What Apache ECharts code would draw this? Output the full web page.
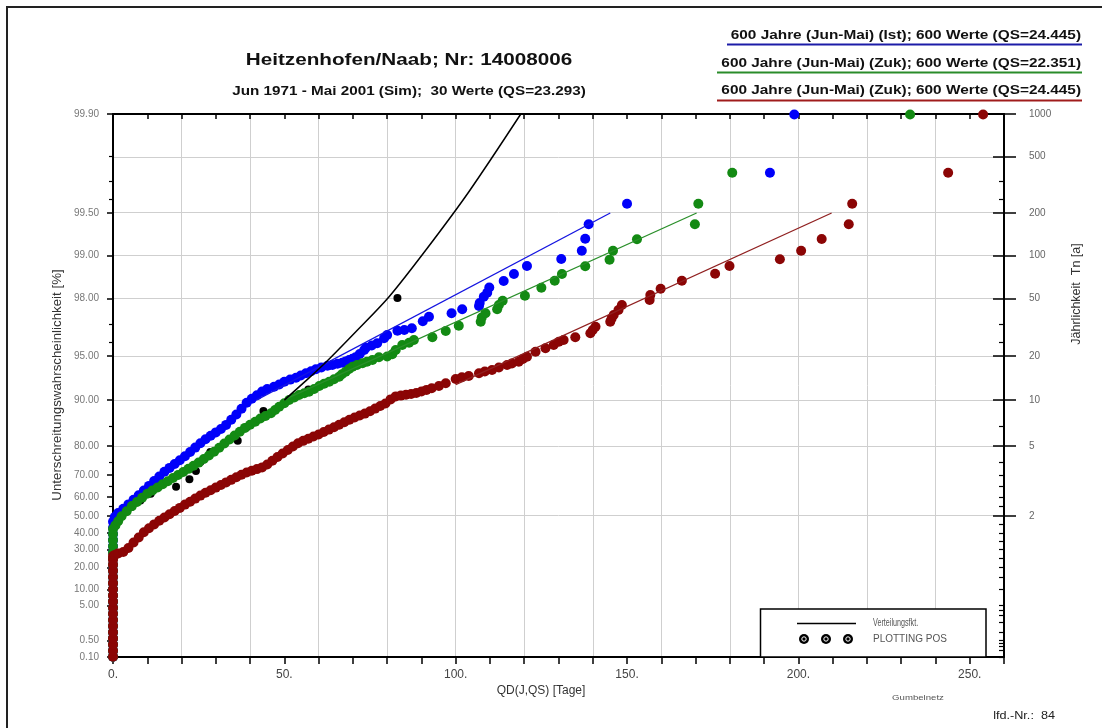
<!DOCTYPE html>
<html><head><meta charset="utf-8">
<script src="https://cdn.jsdelivr.net/npm/echarts@6/dist/echarts.min.js"></script>
<style>html,body{margin:0;padding:0;background:#fff}#c{width:1102px;height:728px}</style>
</head><body><div id="c"></div>
<script>
// ---- data: [QD (days), Gumbel reduced variate y = -ln(-ln P)] ----
const blueIst = [
 [0,-1.93],[0,-1.83],[0,-1.73],[0,-1.63],[0,-1.53],[0,-1.43],[0,-1.33],[0,-1.23],[0,-1.13],[0,-1.03],[0,-0.93],[0,-0.83],[0,-0.73],[0,-0.63],[0,-0.53],[0,-0.43],[0,-0.33],[0,-0.23],[0,-0.13],[0,-0.03],[0,0.07],[0,0.17],[0,0.27],
 [0.5,0.347],[1.5,0.412],[3,0.482],[4.5,0.552],[6,0.627],[7.5,0.701],[9,0.778],[10.5,0.853],[12,0.931],[13.5,1.006],[15,1.084],[16.5,1.146],[18,1.209],[19.5,1.271],[21,1.336],[22.5,1.406],[24,1.476],[25.5,1.546],[27,1.613],[28.5,1.669],[30,1.724],[31.5,1.779],[33,1.846],[34.5,1.929],[36,2.015],[37.5,2.108],[39,2.207],[40.5,2.271],[42,2.329],[43.5,2.388],[45,2.430],[47,2.468],[48.5,2.504],[50,2.549],[51.7,2.583],[53.4,2.614],[54.8,2.650],[56.3,2.686],[57.8,2.720],[59.2,2.751],[60.8,2.779],[62.6,2.810],[64,2.821],[65.5,2.841],[66.9,2.859],[67.9,2.880],[68.9,2.903],[69.9,2.924],[70.8,2.947],[72,3.000],[73.3,3.065],[73.8,3.103],[75.5,3.139],[77.1,3.175],[79.1,3.256],[80,3.310],[83,3.380],[85,3.391],[87.2,3.419],[90.4,3.533],[92.2,3.607],[98.8,3.663],[101.9,3.728],[106.8,3.782],[107,3.830],[108.2,3.933],[109.2,3.998],[109.8,4.083],[114,4.189],[117,4.303],[120.8,4.433],[130.8,4.547],[136.8,4.682],[137.8,4.877],[138.8,5.112],[150,5.447],[191.7,5.952],[198.8,6.90]
];
const greenZuk = [
 [0,-1.93],[0,-1.83],[0,-1.73],[0,-1.63],[0,-1.53],[0,-1.43],[0,-1.33],[0,-1.23],[0,-1.13],[0,-1.03],[0,-0.93],[0,-0.83],[0,-0.73],[0,-0.63],[0,-0.53],[0,-0.43],[0,-0.33],[0,-0.23],[0,-0.13],[0,-0.03],[0,0.07],[0,0.15],
 [0.7,0.210],[1.5,0.278],[2.5,0.358],[4,0.441],[5.5,0.524],[7,0.591],[8.5,0.659],[10,0.726],[11.5,0.778],[13,0.828],[14.5,0.879],[16,0.929],[17.5,0.980],[19,1.029],[20.5,1.079],[22,1.130],[23.5,1.180],[25,1.232],[26.5,1.291],[28,1.349],[29.5,1.408],[31,1.473],[32.5,1.542],[34,1.608],[35.5,1.673],[37,1.735],[38.5,1.797],[40,1.848],[41.5,1.898],[43,1.949],[44.5,1.991],[46.1,2.035],[47.3,2.089],[48.5,2.142],[50,2.198],[51.4,2.251],[52.9,2.292],[54.3,2.333],[55.8,2.360],[57.2,2.386],[58.7,2.430],[60.2,2.479],[61.6,2.515],[63.1,2.549],[64.5,2.590],[66,2.631],[66.8,2.671],[67.9,2.712],[68.9,2.756],[69.9,2.793],[71.2,2.821],[72.8,2.849],[74.1,2.875],[75.7,2.903],[77.6,2.947],[80,2.960],[81.5,2.995],[82.5,3.065],[84.4,3.147],[86.4,3.184],[87.8,3.228],[93.2,3.272],[97.1,3.375],[100.9,3.461],[107.3,3.526],[107.6,3.594],[108.7,3.663],[112.1,3.728],[112.6,3.798],[113.7,3.868],[120.2,3.949],[125,4.080],[128.9,4.194],[131,4.303],[137.8,4.428],[144.9,4.535],[145.9,4.682],[152.9,4.867],[169.8,5.112],[170.8,5.447],[180.7,5.952],[232.6,6.90]
];
const redZuk = [
 [0,-1.93],[0,-1.83],[0,-1.73],[0,-1.63],[0,-1.53],[0,-1.43],[0,-1.33],[0,-1.23],[0,-1.13],[0,-1.03],[0,-0.93],[0,-0.83],[0,-0.73],[0,-0.63],[0,-0.53],[0,-0.43],[0,-0.35],[0,-0.29],
 [0.5,-0.272],[1.5,-0.246],[3,-0.222],[4.5,-0.158],[6,-0.070],[7.5,0.013],[9,0.098],[10.5,0.163],[12,0.226],[13.5,0.285],[15,0.338],[16.5,0.391],[18,0.443],[19.5,0.495],[21,0.548],[22.5,0.596],[24,0.646],[25.5,0.695],[27,0.742],[28.5,0.783],[30,0.825],[31.5,0.868],[33,0.910],[34.5,0.951],[36,0.993],[37.5,1.035],[39,1.071],[40.5,1.099],[42,1.126],[43.5,1.154],[45,1.201],[46.5,1.262],[48,1.323],[49.5,1.380],[51,1.437],[52.5,1.494],[54,1.548],[55.5,1.586],[57,1.620],[58.5,1.656],[60,1.691],[61.5,1.729],[63,1.769],[64.5,1.809],[66,1.848],[67.5,1.888],[69,1.929],[70.5,1.966],[72,1.999],[73.5,2.030],[75,2.069],[76.5,2.111],[78,2.154],[79.5,2.194],[81,2.261],[82.5,2.310],[84,2.323],[85.5,2.336],[87,2.349],[88.5,2.364],[90,2.390],[91.5,2.416],[93,2.443],[95.1,2.479],[97.1,2.523],[100,2.593],[101.8,2.621],[103.8,2.642],[106.8,2.686],[108.5,2.715],[110.6,2.740],[112.6,2.780],[115,2.821],[116.4,2.846],[118.4,2.875],[119.6,2.919],[120.8,2.956],[123.3,3.038],[126.2,3.093],[128.6,3.147],[130.1,3.200],[131.5,3.228],[134.9,3.272],[139.3,3.337],[140,3.391],[140.8,3.445],[145.1,3.526],[145.5,3.578],[146.1,3.635],[147.5,3.717],[148.5,3.798],[156.6,3.879],[156.8,3.961],[159.8,4.063],[166,4.192],[175.7,4.308],[179.9,4.433],[194.6,4.542],[200.8,4.682],[206.8,4.872],[214.7,5.112],[215.7,5.447],[243.7,5.952],[253.9,6.90]
];
const blackSim = [
 [83,3.91],[70,2.934],[57,2.421],[43.9,2.073],[39,1.809],[36.4,1.589],[28.4,1.404],[25.5,1.241],[24.2,1.096],[22.3,0.963],[18.4,0.840],[11,0.725],[8,0.617],[5.5,0.514],[3,0.415],[1,0.319],
 [0,0.226],[0,0.134],[0,0.043],[0,-0.047],[0,-0.138],[0,-0.230],[0,-0.324],[0,-0.421],[0,-0.524],[0,-0.635],[0,-0.759],[0,-0.902],[0,-1.085],[0,-1.382]
];
// fitted distribution functions, drawn from 90 % upward
const blackFit = [[50.0,2.25],[56.0,2.55],[62.2,2.87],[71.0,3.37],[80.5,3.928],[91.3,4.693],[103.8,5.638],[119,6.907]];
const blueFit  = [[41.8,2.250],[145.1,5.296]];
const greenFit = [[49.7,2.250],[170.3,5.296]];
const redFit   = [[100.0,2.502],[209.7,5.296]];

// ---- axis ticks ----
const leftMajorPct = [99.9,99.5,99,98,95,90,80,70,60,50,40,30,20,10,5,0.5,0.1];
const leftMinorPct = [99.8,99.7,99.6,97,96,85,75,65,55,45,35,25,15,4,3,2,1,0.4,0.3,0.2];
const rightMajorT = [1000,500,200,100,50,20,10,5,2];
const rightMinorPct = [99.7,99.6,97,96,85,75,70,65,60,55,45,40,35,30,25,20,15,10,5,4,3,2,1,0.5,0.4,0.3,0.2,0.1];
const xLabels = [0,50,100,150,200,250];

const titleText = 'Heitzenhofen/Naab; Nr: 14008006';
const subTitleText = 'Jun 1971 - Mai 2001 (Sim);  30 Werte (QS=23.293)';
const legendTexts = [
 '600 Jahre (Jun-Mai) (Ist); 600 Werte (QS=24.445)',
 '600 Jahre (Jun-Mai) (Zuk); 600 Werte (QS=22.351)',
 '600 Jahre (Jun-Mai) (Zuk); 600 Werte (QS=24.445)'
];

const G = p => -Math.log(-Math.log(p / 100));
const P = v => 100 * Math.exp(-Math.exp(-v));
const yMin = G(0.1), yMax = G(99.9);
const Tp = t => 100 * (1 - 1 / t);
const FONT = 'Liberation Sans';
const BLUE = '#0000fa', GREEN = '#138a13', RED = '#8b0505';
const SX = 1.24; // horizontal stretch of the reference lettering

const chart = echarts.init(document.getElementById('c'));
const yBase = {type:'value', min:yMin, max:yMax, splitLine:{show:false}, axisLine:{show:false, onZero:false}, axisLabel:{show:false}};
const xBase = {type:'value', min:0, max:260, interval:10, splitLine:{show:false}};

function txt(x, y, text, font, opts) {
  opts = opts || {};
  return {type:'text', x:x, y:y, scaleX:opts.sx || 1, rotation:opts.rot || 0, z:opts.z || 5,
    style:{text:text, font:font, fill:opts.fill || '#111', textAlign:opts.align || 'center', textVerticalAlign:'middle'}};
}

const option = {
 animation:false,
 backgroundColor:'#fff',
 grid:{left:113, top:114, right:98, bottom:71, containLabel:false},
 xAxis:[
  Object.assign({}, xBase, {position:'bottom',
    axisLine:{show:true, onZero:false, lineStyle:{color:'#000', width:2}},
    axisTick:{show:true, inside:false, length:7, lineStyle:{color:'#000', width:1.5}},
    axisLabel:{show:true, margin:12, color:'#444', fontSize:12, fontFamily:FONT,
      formatter: v => xLabels.includes(v) ? v + '.' : ''}}),
  Object.assign({}, xBase, {position:'top',
    axisLine:{show:true, onZero:false, lineStyle:{color:'#000', width:2}},
    axisTick:{show:true, inside:true, length:5, lineStyle:{color:'#000', width:1.5}},
    axisLabel:{show:false}}),
  Object.assign({}, xBase, {position:'bottom', interval:20,
    axisLine:{show:false, onZero:false}, axisTick:{show:false}, axisLabel:{show:false},
    splitLine:{show:true, lineStyle:{color:'#cfcfcf', width:1}}})
 ],
 yAxis:[
  Object.assign({}, yBase, {position:'left',
    axisLine:{show:true, onZero:false, lineStyle:{color:'#000', width:2}},
    axisTick:{show:true, inside:false, length:6, customValues:leftMajorPct.map(G), lineStyle:{color:'#000', width:1.5}},
    axisLabel:{show:true, customValues:leftMajorPct.map(G), formatter: v => P(v).toFixed(2), color:'#777', fontSize:10, margin:14, fontFamily:FONT}}),
  Object.assign({}, yBase, {position:'left',
    axisTick:{show:true, inside:false, length:4, customValues:leftMinorPct.map(G), lineStyle:{color:'#000', width:1.2}}}),
  Object.assign({}, yBase, {position:'right',
    axisLine:{show:true, onZero:false, lineStyle:{color:'#000', width:2}},
    axisTick:{show:true, inside:false, length:12, customValues:rightMajorT.map(t => G(Tp(t))), lineStyle:{color:'#000', width:1.5}},
    axisLabel:{show:true, customValues:rightMajorT.map(t => G(Tp(t))), formatter: v => String(Math.round(1 / (1 - P(v) / 100))), color:'#666', fontSize:10, margin:25, fontFamily:FONT}}),
  Object.assign({}, yBase, {position:'right',
    axisTick:{show:true, inside:true, length:11, customValues:rightMajorT.map(t => G(Tp(t))), lineStyle:{color:'#000', width:1.5}}}),
  Object.assign({}, yBase, {position:'right',
    axisTick:{show:true, inside:true, length:5, customValues:rightMinorPct.map(G), lineStyle:{color:'#000', width:1.2}}})
 ],
 series:[
  {type:'line', data:[], z:0, zlevel:0, silent:true,
   markLine:{silent:true, z:0, symbol:'none', label:{show:false}, animation:false,
     lineStyle:{color:'#cfcfcf', type:'solid', width:1},
     data: rightMajorT.slice(1).map(t => ({yAxis: G(Tp(t))}))}},
  {name:'sim', type:'scatter', data:blackSim, symbolSize:8, itemStyle:{color:'#000', opacity:1}, z:3},
  {name:'ist', type:'scatter', data:blueIst, symbolSize:10, itemStyle:{color:BLUE, opacity:1}, z:4},
  {name:'zuk1', type:'scatter', data:greenZuk, symbolSize:10, itemStyle:{color:GREEN, opacity:1}, z:5},
  {name:'zuk2', type:'scatter', data:redZuk, symbolSize:10, itemStyle:{color:RED, opacity:1}, z:6},
  {type:'line', data:blueFit, showSymbol:false, lineStyle:{color:'#1515e0', width:1.3}, z:7},
  {type:'line', data:greenFit, showSymbol:false, lineStyle:{color:'#2a8f2a', width:1.3}, z:7},
  {type:'line', data:redFit, showSymbol:false, lineStyle:{color:'#902020', width:1.3}, z:7},
  {type:'line', data:blackFit, showSymbol:false, smooth:0.3, lineStyle:{color:'#000', width:1.5}, z:8}
 ],
 graphic:[
  {type:'rect', shape:{x:7, y:7, width:1120, height:760}, style:{fill:null, stroke:'#222', lineWidth:2}, silent:true},
  txt(409, 60, titleText, 'bold 16.7px ' + FONT, {sx:SX}),
  txt(409, 92, subTitleText, 'bold 12.3px ' + FONT, {sx:SX}),
  txt(1081, 36, legendTexts[0], 'bold 12.4px ' + FONT, {sx:SX, align:'right'}),
  {type:'line', shape:{x1:727, y1:44.5, x2:1082, y2:44.5}, style:{stroke:'#1c1ca8', lineWidth:2.2}},
  txt(1081, 63.5, legendTexts[1], 'bold 12.4px ' + FONT, {sx:SX, align:'right'}),
  {type:'line', shape:{x1:717, y1:72.5, x2:1082, y2:72.5}, style:{stroke:'#2a8c2a', lineWidth:2.2}},
  txt(1081, 91, legendTexts[2], 'bold 12.4px ' + FONT, {sx:SX, align:'right'}),
  {type:'line', shape:{x1:717, y1:100.5, x2:1082, y2:100.5}, style:{stroke:'#a01c1c', lineWidth:2.2}},
  txt(57, 385, 'Unterschreitungswahrscheinlichkeit [%]', '13.3px ' + FONT, {rot:Math.PI/2, fill:'#333'}),
  txt(1077, 294, 'Jährlichkeit  Tn [a]', '12.5px ' + FONT, {rot:Math.PI/2, fill:'#333'}),
  txt(541, 691, 'QD(J,QS) [Tage]', '12px ' + FONT, {fill:'#333'}),
  txt(918, 698, 'Gumbelnetz', '8px ' + FONT, {fill:'#555', sx:1.2}),
  txt(1055, 716, 'lfd.-Nr.:  84', '11px ' + FONT, {fill:'#222', align:'right', sx:1.15}),
  {type:'rect', shape:{x:760.5, y:609, width:225.5, height:48}, style:{fill:'#fff', stroke:'#000', lineWidth:1.5}, z:10},
  {type:'line', shape:{x1:797, y1:623.5, x2:856, y2:623.5}, style:{stroke:'#000', lineWidth:1.5}, z:11},
  txt(873, 623.5, 'Verteilungsfkt.', '10px ' + FONT, {fill:'#555', align:'left', sx:0.72, z:11}),
  txt(873, 639, 'PLOTTING POS', '10px ' + FONT, {fill:'#555', align:'left', z:11}),
  {type:'circle', shape:{cx:804, cy:639, r:5}, style:{fill:'#000'}, z:11},
  {type:'circle', shape:{cx:826, cy:639, r:5}, style:{fill:'#000'}, z:11},
  {type:'circle', shape:{cx:848, cy:639, r:5}, style:{fill:'#000'}, z:11},
  {type:'circle', shape:{cx:804, cy:639, r:2.2}, style:{fill:'none', stroke:'#fff', lineWidth:1}, z:12},
  {type:'circle', shape:{cx:826, cy:639, r:2.2}, style:{fill:'none', stroke:'#fff', lineWidth:1}, z:12},
  {type:'circle', shape:{cx:848, cy:639, r:2.2}, style:{fill:'none', stroke:'#fff', lineWidth:1}, z:12}
 ]
};
chart.setOption(option);
</script></body></html>
